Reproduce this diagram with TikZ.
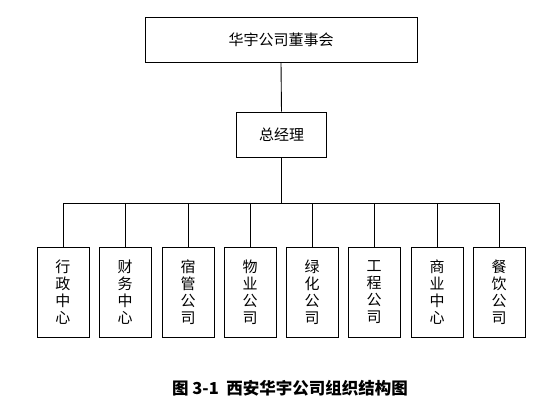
\documentclass[tikz,border=0pt]{standalone}
\usepackage{fontspec}
\setmainfont{Noto Sans CJK SC}
\usetikzlibrary{positioning}
\tikzset{
  box/.style={draw,line width=0.9pt,rectangle,inner sep=0pt,font=\fontsize{15}{17}\selectfont},
  deptbox/.style={box,minimum width=52pt,minimum height=90pt,align=center}
}
\begin{document}
\begin{tikzpicture}[x=1pt,y=-1pt,line width=0.9pt]
    \useasboundingbox (0,0) rectangle (558,414);
    %% board and manager
    \node[box,minimum width=272pt,minimum height=45pt] (board) at (281,39.5) {华宇公司董事会};
    \node[box,minimum width=90pt,minimum height=45pt] (gm) at (281.5,134.5) {总经理};
    \draw (board.south) -- (gm.north);
    %% departments
    \foreach \i/\x/\t in {1/63/行\\政\\中\\心,2/125/财\\务\\中\\心,3/188/宿\\管\\公\\司,4/250/物\\业\\公\\司,
                          5/312/绿\\化\\公\\司,6/374/工\\程\\公\\司,7/437/商\\业\\中\\心,8/499/餐\\饮\\公\\司}{
        \node[deptbox] (d\i) at (\x,292) {\t};
    }
    \coordinate (bus) at (281.5,203);
    \draw (gm.south) -- (bus);
    \draw (d1.north |- bus) -- (d8.north |- bus);
    \foreach \i in {1,...,8}{
        \draw (d\i.north) -- (d\i.north |- bus);
    }
    %% caption
    \node[font=\fontsize{16.5}{18}\selectfont\bfseries] (cap) at (290,388) {图 3-1\ \ 西安华宇公司组织结构图};
\end{tikzpicture}
\end{document}
